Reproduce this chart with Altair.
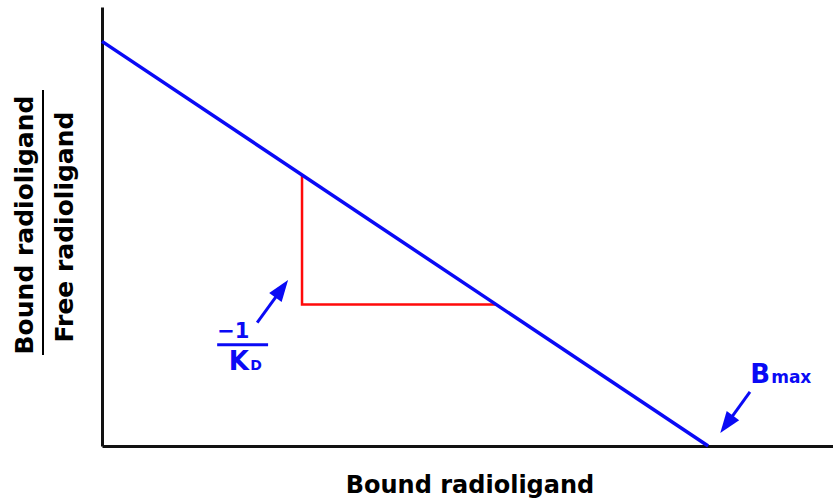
import altair as alt
import pandas as pd

# Scatchard plot: bound/free vs bound, straight line from B/F intercept to Bmax
bound = [0.0, 10.0]
bound_over_free = [2.0, 0.0]

# slope triangle under the line (rise = -1/KD over run)
tri_bound = [3.3, 3.3, 6.5]
tri_ratio = [1.34, 0.70, 0.70]
tri_order = [0, 1, 2]

# arrows: tail -> tip
arrow_name = ["kd", "bmax"]
arrow_x0 = [2.56, 10.69]
arrow_y0 = [0.61, 0.267]
arrow_x1 = [3.07, 10.20]
arrow_y1 = [0.82, 0.064]
arrow_angle = [36, 216]

# text labels
lbl_text = ["\u22121", "K", "D", "B", "max"]
lbl_x = [1.90, 2.425, 2.445, 11.02, 11.04]
lbl_y = [0.534, 0.376, 0.376, 0.311, 0.311]
lbl_size = [21, 26, 14, 26, 17]
lbl_align = ["left", "right", "left", "right", "left"]

X_DOMAIN = [0, 12.06]
Y_DOMAIN = [0, 2.17]
BLUE = "#0a0af5"
RED = "#ff0a0a"
FONT = "DejaVu Sans"

line_df = pd.DataFrame({"bound": bound, "ratio": bound_over_free})
tri_df = pd.DataFrame({"bound": tri_bound, "ratio": tri_ratio, "k": tri_order})

arr = pd.DataFrame({"name": arrow_name, "x0": arrow_x0, "y0": arrow_y0,
                    "x1": arrow_x1, "y1": arrow_y1, "angle": arrow_angle})
# shaft stops short of the tip so the head covers its end
arr["xs"] = arr["x0"] + 0.7 * (arr["x1"] - arr["x0"])
arr["ys"] = arr["y0"] + 0.7 * (arr["y1"] - arr["y0"])

lbl_df = pd.DataFrame({"t": lbl_text, "x": lbl_x, "y": lbl_y,
                       "s": lbl_size, "a": lbl_align})

xs = alt.Scale(domain=X_DOMAIN, nice=False, zero=False)
ys = alt.Scale(domain=Y_DOMAIN, nice=False, zero=False)
ax = dict(ticks=False, labels=False, grid=False, title=None,
          domainColor="#111111", domainWidth=3)

base_line = alt.Chart(line_df).mark_line(color=BLUE, strokeWidth=3.5).encode(
    x=alt.X("bound:Q", scale=xs, axis=alt.Axis(**ax)),
    y=alt.Y("ratio:Q", scale=ys, axis=alt.Axis(**ax)),
)

triangle = alt.Chart(tri_df).mark_line(color=RED, strokeWidth=2.5).encode(
    x=alt.X("bound:Q", scale=xs),
    y=alt.Y("ratio:Q", scale=ys),
    order="k:O",
)

shafts = alt.Chart(arr).mark_rule(color=BLUE, strokeWidth=3).encode(
    x=alt.X("x0:Q", scale=xs), y=alt.Y("y0:Q", scale=ys),
    x2="xs:Q", y2="ys:Q",
)

heads = alt.Chart(arr).mark_point(
    shape="M0,0 L0.5,1.4 L-0.5,1.4 Z", filled=True, color=BLUE, opacity=1, size=950
).encode(
    x=alt.X("x1:Q", scale=xs), y=alt.Y("y1:Q", scale=ys),
    angle=alt.Angle("angle:Q", scale=None),
)

kd_bar = alt.Chart(pd.DataFrame({"x": [1.90], "x2": [2.74], "y": [0.50]})).mark_rule(
    color=BLUE, strokeWidth=3
).encode(x=alt.X("x:Q", scale=xs), x2="x2:Q", y=alt.Y("y:Q", scale=ys))


def label_layer(align):
    return alt.Chart(lbl_df).transform_filter(
        alt.datum.a == align
    ).mark_text(
        color=BLUE, font=FONT, fontWeight="bold", baseline="alphabetic", align=align
    ).encode(
        x=alt.X("x:Q", scale=xs), y=alt.Y("y:Q", scale=ys),
        text="t:N",
        size=alt.Size("s:Q", scale=None),
    )


labels_left = label_layer("left")
labels_right = label_layer("right")

# axis titles
x_title = alt.Chart(pd.DataFrame({"t": ["Bound radioligand"]})).mark_text(
    font=FONT, fontWeight="bold", fontSize=24, color="#000000",
    align="center", baseline="alphabetic"
).encode(text="t:N", x=alt.value(368), y=alt.value(486))

y_num = alt.Chart(pd.DataFrame({"t": ["Bound radioligand"]})).mark_text(
    font=FONT, fontWeight="bold", fontSize=25, color="#000000",
    align="center", baseline="alphabetic", angle=270
).encode(text="t:N", x=alt.value(-69), y=alt.value(218))

y_den = alt.Chart(pd.DataFrame({"t": ["Free radioligand"]})).mark_text(
    font=FONT, fontWeight="bold", fontSize=25, color="#000000",
    align="center", baseline="alphabetic", angle=270
).encode(text="t:N", x=alt.value(-29), y=alt.value(220))

y_bar = alt.Chart(pd.DataFrame({"v": [0]})).mark_rule(color="#000000", strokeWidth=2).encode(
    x=alt.value(-59), y=alt.value(83), y2=alt.value(348)
)

chart = alt.layer(
    triangle, base_line, shafts, heads, kd_bar, labels_left, labels_right,
    x_title, y_num, y_den, y_bar
).properties(
    width=731, height=439,
    padding={"left": 102, "top": 7, "right": 0, "bottom": 53},
    autosize="none",
    background="white",
).configure_view(stroke=None)

chart.save("out.html", embed_options={"renderer": "svg", "actions": False})
